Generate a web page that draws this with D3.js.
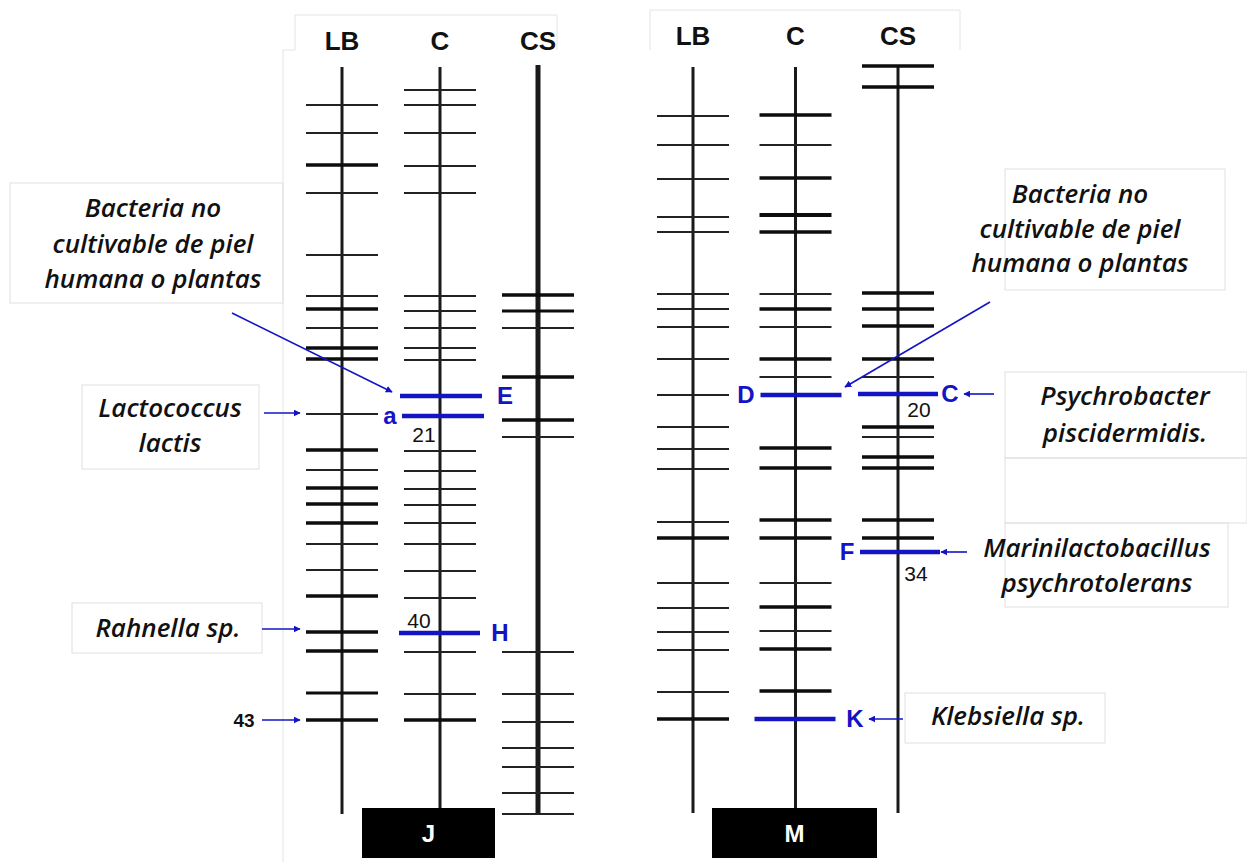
<!DOCTYPE html>
<html>
<head>
<meta charset="utf-8">
<script src="https://cdn.jsdelivr.net/npm/d3@7"></script>
<style>
  body { margin: 0; background: #fff; }
  .lbl { font-family: "Open Sans", Lato, sans-serif; font-style: italic; font-weight: 600; fill: #111; }
  .hdr { font-family: "Liberation Sans", Arial, sans-serif; font-weight: bold; fill: #111; }
</style>
</head>
<body>
<div id="gel"></div>
<script>
// lanes in each gel panel
var lanes = ["LB", "C", "CS"];
var panels = ["J", "M"];

// band migration positions (distance from top), and intensity (1 thin, 2 strong)
var bandsJ_LB = [105, 133, 165, 193, 255, 296, 309, 328, 348, 359, 414, 450, 470, 488, 504, 523, 544, 570, 596, 632, 651, 693, 720];
var intJ_LB   = [1, 1, 2, 1, 1, 1, 2, 1, 2, 2, 1, 2, 1, 2, 2, 2, 1, 1, 2, 2, 2, 1.5, 2];
var bandsJ_C  = [90, 105, 133, 166, 193, 296, 311, 328, 348, 360, 451, 471, 489, 505, 523, 544, 571, 598, 652, 694, 720];
var intJ_C    = [1, 1, 1, 1, 1, 1, 1, 1, 1, 1, 1, 1, 1, 1, 1, 1, 1, 1, 1, 1, 2];
var bandsJ_CS = [295, 311, 328, 377, 420, 437, 652, 694, 722, 748, 767, 793, 814];
var intJ_CS   = [2, 1.5, 1, 2, 2, 1, 1, 1, 1, 1, 1, 1, 1];

var bandsM_LB = [116, 145, 179, 217, 232, 294, 309, 327, 359, 395, 427, 449, 469, 522, 538, 583, 608, 632, 650, 692, 719];
var intM_LB   = [1, 1, 1, 1, 1, 1, 1, 1, 1, 1, 1, 1, 1, 1, 2, 1, 1, 1, 1, 1, 2];
var bandsM_C  = [115, 145, 178, 215, 232, 294, 309, 327, 359, 377, 448, 468, 520, 538, 583, 607, 631, 649, 691];
var intM_C    = [2, 1, 2, 2.5, 2, 1, 2, 1, 2, 1, 2, 2, 2, 2, 1, 2, 1, 2, 2];
var bandsM_CS = [66, 87, 293, 309, 326, 359, 377, 427, 437, 457, 468, 520, 538];
var intM_CS   = [2, 2, 2, 2, 2, 2, 1, 2, 1, 2, 2, 2, 2];

// identified (sequenced) bands: panel, lane, position, letter
var idPanel  = ["J", "J", "J", "M", "M", "M", "M"];
var idLane   = ["C", "C", "C", "C", "CS", "CS", "C"];
var idPos    = [396, 416, 633, 395, 394, 552, 719];
var idLetter = ["E", "a", "H", "D", "C", "F", "K"];

// band numbers
var numPanel = ["J", "J", "M", "M"];
var numLane  = ["C", "C", "CS", "CS"];
var numPos   = [416, 633, 394, 552];
var numText  = ["21", "40", "20", "34"];

var width = 1247, height = 862;
var blue = "#1414c4";

var svg = d3.select("#gel").append("svg")
    .attr("width", width)
    .attr("height", height);

var defs = svg.append("defs");
defs.append("marker")
    .attr("id", "arr")
    .attr("viewBox", "0 0 10 10")
    .attr("refX", 9).attr("refY", 5)
    .attr("markerWidth", 7).attr("markerHeight", 7)
    .attr("markerUnits", "userSpaceOnUse")
    .attr("orient", "auto")
    .append("path")
    .attr("d", "M0,0 L10,5 L0,10 z")
    .attr("fill", blue);

// migration scale (gel top -> bottom)
var yScale = d3.scaleLinear().domain([0, 862]).range([0, 862]);

var xLane = {
    J: d3.scalePoint().domain(lanes).range([342, 538]),
    M: d3.scalePoint().domain(lanes).range([693, 898])
};

var laneTop = { J: [67, 67, 65], M: [67, 67, 66] };
var laneBottom = { J: [814, 810, 814], M: [813, 810, 813] };
var laneWidth = { J: [3, 3, 5], M: [3, 3, 3] };
var bandHalf = 36;

var bandData = {
    J: [[bandsJ_LB, intJ_LB], [bandsJ_C, intJ_C], [bandsJ_CS, intJ_CS]],
    M: [[bandsM_LB, intM_LB], [bandsM_C, intM_C], [bandsM_CS, intM_CS]]
};

// faint frames
var frame = svg.append("g").attr("stroke", "#e4e4e4").attr("fill", "none").attr("stroke-width", 1);
frame.append("path").attr("d", "M295,50 V15 H557 V50");
frame.append("path").attr("d", "M283,862 V50 H295");
frame.append("path").attr("d", "M650,50 V10 H960 V50");

// lane headers
var hdrY = { J: 50, M: 45 };
panels.forEach(function(p) {
    svg.append("g").selectAll("text")
        .data(lanes)
        .enter()
        .append("text")
        .attr("class", "hdr")
        .attr("x", d => xLane[p](d))
        .attr("y", hdrY[p])
        .attr("text-anchor", "middle")
        .style("font-size", "26px")
        .text(d => d);
});

// lanes + bands
panels.forEach(function(p) {
    lanes.forEach(function(lane, i) {
        var x = xLane[p](lane);
        var g = svg.append("g");
        g.append("line")
            .attr("x1", x).attr("x2", x)
            .attr("y1", yScale(laneTop[p][i]))
            .attr("y2", yScale(laneBottom[p][i]))
            .attr("stroke", "#1a1a1a")
            .attr("stroke-width", laneWidth[p][i]);
        var pos = bandData[p][i][0], inten = bandData[p][i][1];
        g.selectAll("line.band")
            .data(pos)
            .enter()
            .append("line")
            .attr("class", "band")
            .attr("x1", x - bandHalf)
            .attr("x2", x + bandHalf)
            .attr("y1", d => yScale(d))
            .attr("y2", d => yScale(d))
            .attr("stroke", (d, k) => inten[k] > 1 ? "#0d0d0d" : "#222")
            .attr("stroke-width", (d, k) => inten[k] > 1 ? 1.2 + inten[k] * 1.2 : 2);
    });
});

// identified bands in blue
var idOffset = { E: [-40, 42, 505], a: [-38, 44, 390], H: [-41, 40, 500], D: [-35, 46, 746],
                 C: [-40, 40, 950], F: [-38, 42, 847], K: [-41, 40, 855] };
idLetter.forEach(function(l, k) {
    var x = xLane[idPanel[k]](idLane[k]);
    var y = yScale(idPos[k]);
    var o = idOffset[l];
    svg.append("line")
        .attr("x1", x + o[0]).attr("x2", x + o[1])
        .attr("y1", y).attr("y2", y)
        .attr("stroke", blue)
        .attr("stroke-width", 4.5);
    svg.append("text")
        .attr("class", "hdr")
        .attr("x", o[2])
        .attr("y", y + 8)
        .attr("text-anchor", "middle")
        .style("fill", blue)
        .style("font-size", "24px")
        .text(l);
});

// band numbers
var numX = [424, 419, 919, 916];
var numDy = [26, -5, 23, 29];
numText.forEach(function(t, k) {
    svg.append("text")
        .attr("class", "hdr")
        .attr("x", numX[k])
        .attr("y", yScale(numPos[k]) + numDy[k])
        .attr("text-anchor", "middle")
        .style("font-weight", "normal")
        .style("font-size", "21px")
        .text(t);
});
svg.append("text")
    .attr("class", "hdr")
    .attr("x", 244).attr("y", yScale(720) + 7)
    .attr("text-anchor", "middle")
    .style("font-size", "19px")
    .text("43");

// species label boxes
var boxes = [
    { x: 10, y: 183, w: 273, h: 120, cx: 153, lines: ["Bacteria no", "cultivable de piel", "humana o plantas"], by: [217, 253, 288] },
    { x: 82, y: 385, w: 177, h: 84, cx: 170, lines: ["Lactococcus", "lactis"], by: [417, 452] },
    { x: 72, y: 603, w: 190, h: 50, cx: 168, lines: ["Rahnella sp."], by: [637] },
    { x: 1005, y: 169, w: 220, h: 121, cx: 1080, lines: ["Bacteria no", "cultivable de piel", "humana o plantas"], by: [203, 238, 272] },
    { x: 1005, y: 372, w: 242, h: 86, cx: 1125, lines: ["Psychrobacter", "piscidermidis."], by: [405, 442] },
    { x: 1005, y: 458, w: 242, h: 65, cx: 1125, lines: [], by: [] },
    { x: 1005, y: 523, w: 223, h: 84, cx: 1097, lines: ["Marinilactobacillus", "psychrotolerans"], by: [557, 592] },
    { x: 905, y: 693, w: 200, h: 50, cx: 1008, lines: ["Klebsiella sp."], by: [725] }
];
boxes.forEach(function(b) {
    svg.append("rect")
        .attr("x", b.x).attr("y", b.y)
        .attr("width", b.w).attr("height", b.h)
        .attr("fill", "none")
        .attr("stroke", "#e0e0e0");
    b.lines.forEach(function(t, k) {
        svg.append("text")
            .attr("class", "lbl")
            .attr("x", b.cx).attr("y", b.by[k])
            .attr("text-anchor", "middle")
            .style("font-size", "26px")
            .text(t);
    });
});

// blue pointer arrows
var arrows = [
    [232, 313, 392, 392],
    [990, 302, 845, 387],
    [264, 413, 300, 413],
    [262, 629, 300, 629],
    [262, 720, 300, 720],
    [994, 394, 964, 394],
    [967, 552, 941, 552],
    [903, 719, 869, 719]
];
svg.append("g").selectAll("line")
    .data(arrows)
    .enter()
    .append("line")
    .attr("x1", d => d[0]).attr("y1", d => d[1])
    .attr("x2", d => d[2]).attr("y2", d => d[3])
    .attr("stroke", blue)
    .attr("stroke-width", 1.6)
    .attr("marker-end", "url(#arr)");

// panel labels
var tagX = { J: [362, 133], M: [712, 165] };
panels.forEach(function(p) {
    svg.append("rect")
        .attr("x", tagX[p][0]).attr("y", 808)
        .attr("width", tagX[p][1]).attr("height", 50)
        .attr("fill", "#000");
    svg.append("text")
        .attr("class", "hdr")
        .attr("x", tagX[p][0] + tagX[p][1] / 2)
        .attr("y", 842)
        .attr("text-anchor", "middle")
        .style("fill", "#fff")
        .style("font-size", "24px")
        .text(p);
});
</script>
</body>
</html>
